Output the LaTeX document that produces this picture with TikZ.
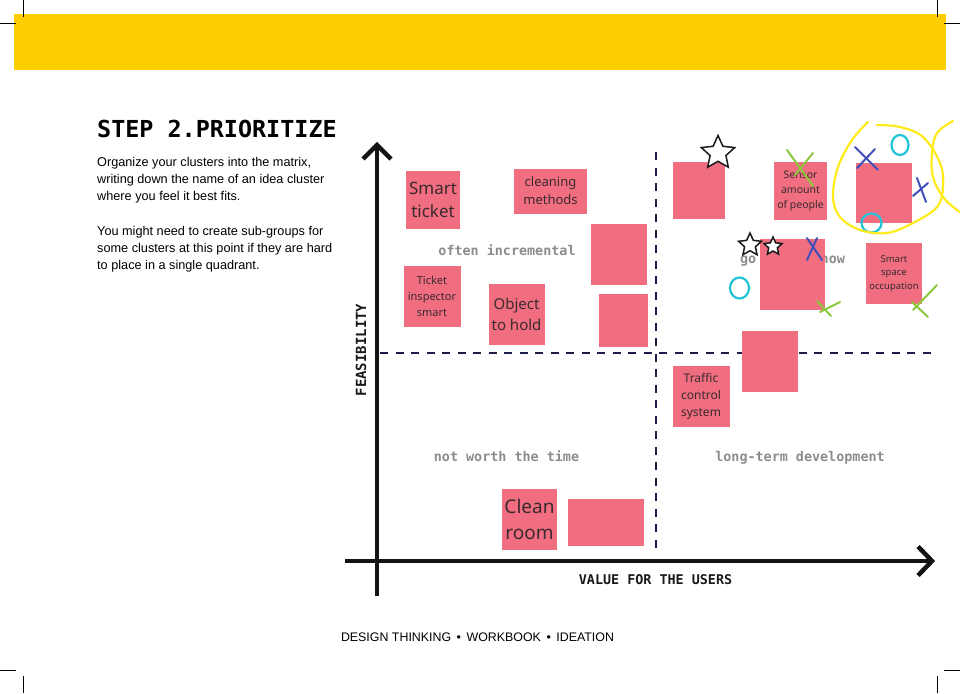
\documentclass[tikz,border=0pt]{standalone}
\usepackage{fontspec}
\setmainfont{Liberation Sans}
\newfontfamily\notefont{Noto Sans}
\newfontfamily\codefont{DejaVu Sans Mono}
\usetikzlibrary{shapes.geometric}

\definecolor{bandyellow}{HTML}{FCCD00}
\definecolor{notepink}{HTML}{F06E80}
\definecolor{notetext}{HTML}{3A2A2E}
\definecolor{gridnavy}{HTML}{1C1C4A}
\definecolor{labelgray}{HTML}{8C8C8C}
\definecolor{markgreen}{HTML}{8CC83C}
\definecolor{markblue}{HTML}{4050B8}
\definecolor{markcyan}{HTML}{20C4D6}
\definecolor{markyellow}{HTML}{FFEA1A}

\tikzset{
  cropmark/.style={line width=0.8pt, black},
  axisline/.style={line width=4.5pt, black!92, line join=miter},
  gridline/.style={line width=2.4pt, gridnavy, dash pattern=on 8pt off 7.5pt},
  note/.style={fill=notepink, inner sep=0pt, align=center, text=notetext},
  quadlabel/.style={anchor=base, text=labelgray, font=\codefont\bfseries\fontsize{13.4}{16}\selectfont},
  axislabel/.style={anchor=base, text=black!90, font=\codefont\bfseries\fontsize{13.4}{16}\selectfont},
  bodyline/.style={anchor=base west, inner sep=0pt, font=\fontsize{12.7}{16}\selectfont},
  starmark/.style={star, star points=5, star point ratio=2.1, draw=black!90, fill=white, line width=1.5pt, inner sep=0pt},
  greenx/.style={markgreen, line width=2pt, line cap=round},
  bluex/.style={markblue, line width=2pt, line cap=round},
  cyanring/.style={markcyan, line width=2.2pt},
  loopline/.style={markyellow, line width=2.2pt, line cap=round},
}

\begin{document}
\begin{tikzpicture}[x=1pt,y=-1pt]
\useasboundingbox (0,0) rectangle (960,693);

% page header band and crop marks
\fill[bandyellow] (14,14) rectangle (946,70);
\draw[cropmark] (23,0) -- (23,17);
\draw[cropmark] (0,23) -- (16,23);
\draw[cropmark] (937.5,0) -- (937.5,17);
\draw[cropmark] (944,23) -- (960,23);
\draw[cropmark] (0,670.5) -- (16,670.5);
\draw[cropmark] (23,676) -- (23,693);
\draw[cropmark] (944,670.5) -- (960,670.5);
\draw[cropmark] (937.5,676) -- (937.5,693);

% title and instructions
\node[anchor=base west, inner sep=0pt, font=\codefont\bfseries\fontsize{23.4}{28}\selectfont] (title) at (97,137) {STEP 2.PRIORITIZE};
\node[bodyline] (l1) at (97,166.5) {Organize your clusters into the matrix,};
\node[bodyline] (l2) at (97,183.2) {writing down the name of an idea cluster};
\node[bodyline] (l3) at (97,200) {where you feel it best fits.};
\node[bodyline] (l4) at (97,235.5) {You might need to create sub-groups for};
\node[bodyline] (l5) at (97,252.2) {some clusters at this point if they are hard};
\node[bodyline] (l6) at (97,269) {to place in a single quadrant.};

% footer
\node[anchor=base, inner sep=0pt, font=\fontsize{12.4}{15}\selectfont] (footer) at (477.5,641) {DESIGN THINKING \,•\, WORKBOOK \,•\, IDEATION};

% quadrant dividers
\coordinate (hl) at (380,353);
\coordinate (hr) at (935,353);
\coordinate (vt) at (656,152);
\coordinate (vb) at (656,553);
\draw[gridline] (hl) -- (hr);
\draw[gridline] (vt) -- (vb);

% axes with open chevron heads
\coordinate (yb) at (377,596);
\coordinate (yt) at (377,145);
\coordinate (xl) at (345,561);
\coordinate (xr) at (932,561);
\draw[axisline] (yb) -- (yt);
\draw[axisline] (363,159) -- (yt) -- (391,159);
\draw[axisline] (xl) -- (xr);
\draw[axisline] (918,546.5) -- (xr) -- (918,575.5);

\node[axislabel] (xlab) at (655.5,584) {VALUE FOR THE USERS};
\node[axislabel, rotate=90, font=\codefont\bfseries\fontsize{14}{16}\selectfont] (ylab) at (366,350) {FEASIBILITY};

% quadrant names
\node[quadlabel] (q1) at (507,255) {often incremental};
\node[quadlabel] (q2) at (792.5,263) {go for it now};
\node[quadlabel] (q3) at (506.5,461) {not worth the time};
\node[quadlabel] (q4) at (800,461) {long-term development};

% sticky notes
\node[note, minimum width=54pt, minimum height=58pt, font=\notefont\fontsize{17}{23}\selectfont] (n1) at (433,200) {Smart\\ticket};
\node[note, minimum width=73pt, minimum height=45pt, font=\notefont\fontsize{13}{18}\selectfont] (n2) at (550.5,191) {cleaning\\methods};
\node[note, minimum width=56pt, minimum height=61pt] (n3) at (619,254) {};
\node[note, minimum width=57pt, minimum height=61pt, font=\notefont\fontsize{11}{16}\selectfont] (n4) at (432,296) {Ticket\\inspector\\smart};
\node[note, minimum width=56pt, minimum height=61pt, font=\notefont\fontsize{15}{21}\selectfont] (n5) at (516.5,314.5) {Object\\to hold};
\node[note, minimum width=49pt, minimum height=53pt] (n6) at (623,320) {};
\node[note, minimum width=52pt, minimum height=57pt] (n7) at (698.5,190.5) {};
\node[note, minimum width=53pt, minimum height=58pt, font=\notefont\fontsize{10.5}{15}\selectfont] (n8) at (800.5,191) {Sensor\\amount\\of people};
\node[note, minimum width=56pt, minimum height=60pt] (n9) at (884,193) {};
\node[note, minimum width=65pt, minimum height=71pt] (n10) at (792.5,274) {};
\node[note, minimum width=56pt, minimum height=61pt, font=\notefont\fontsize{9.5}{13.5}\selectfont] (n11) at (894,273.5) {Smart\\space\\occupation};
\node[note, minimum width=56pt, minimum height=61pt] (n12) at (769.5,361) {};
\node[note, minimum width=57pt, minimum height=61pt, font=\notefont\fontsize{12}{17}\selectfont] (n13) at (701,396.5) {Traffic\\control\\system};
\node[note, minimum width=55pt, minimum height=61pt, font=\notefont\fontsize{19}{26}\selectfont] (n14) at (529.5,519.5) {Clean\\room};
\node[note, minimum width=76pt, minimum height=47pt] (n15) at (606,522) {};

% hand-drawn votes: stars
\node[starmark, minimum size=35pt] (s1) at (718,153) {};
\node[starmark, minimum size=24pt] (s2) at (750,245) {};
\node[starmark, minimum size=19pt] (s3) at (773,246.5) {};

% hand-drawn votes: green crosses
\draw[greenx] (787,150) -- (813,186);
\draw[greenx] (795,175) -- (813,153);
\draw[greenx] (817,301) -- (831,316);
\draw[greenx] (820,312) -- (840,302);
\draw[greenx] (912,302) -- (928,317);
\draw[greenx] (913,310) -- (937,285);

% hand-drawn votes: blue crosses
\draw[bluex] (855,147) -- (878,170);
\draw[bluex] (857,168) -- (875,149);
\draw[bluex] (917,178) -- (926,202);
\draw[bluex] (913,196) -- (928,183);
\draw[bluex] (807,238) -- (822,260);
\draw[bluex] (807,260) -- (817,238);

% hand-drawn votes: cyan rings
\draw[cyanring] (900,145) ellipse [x radius=8.5, y radius=10];
\draw[cyanring] (871.5,223) ellipse [x radius=10, y radius=9.5];
\draw[cyanring] (739.5,288) ellipse [x radius=9.5, y radius=10.5];

% yellow loops around the favourite cluster
\draw[loopline] plot[smooth, tension=0.6] coordinates {
  (868,122) (852,140) (838,167) (833,197) (840,217) (860,230) (887,233)
  (913,223) (937,207) (943,187) (940,163) (923,137) (900,127) (877,125)};
\draw[loopline] plot[smooth, tension=0.6] coordinates {
  (953,121) (937,133) (932,153) (933,177) (943,197) (957,210) (961,212)};
\end{tikzpicture}
\end{document}
